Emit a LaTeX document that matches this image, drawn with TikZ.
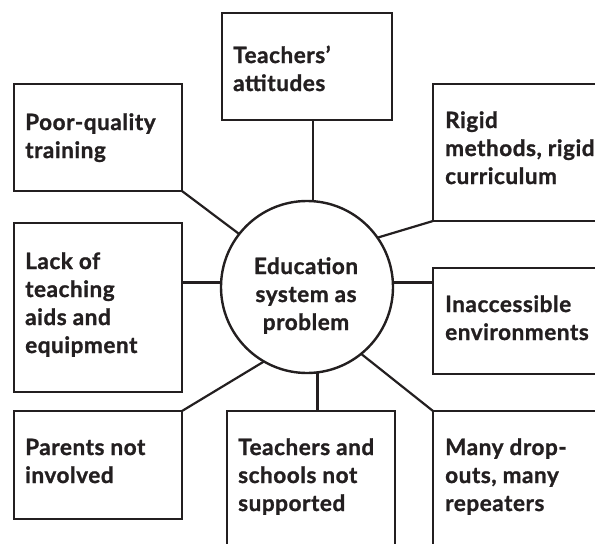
\documentclass[tikz,border=0pt]{standalone}
\usepackage{fontspec}
\setmainfont{Lato}[BoldFont={Lato Bold}, BoldFeatures={FakeBold=1.2, LetterSpace=2.5}]
\definecolor{ink}{HTML}{231F20}
\begin{document}
\begin{tikzpicture}[x=1pt,y=-1pt,
  line width=2.4pt, draw=ink,
  box/.style={draw=ink, rectangle, inner sep=0pt, outer sep=0pt, anchor=north west},
  lbl/.style={anchor=base west, inner sep=0pt, align=left, text=ink,
    font=\fontsize{22.5}{28}\selectfont\bfseries},
  link/.style={draw=ink, line width=2.2pt}]
\useasboundingbox (0,0) rectangle (595,544);
\clip (0,0) rectangle (595,544);
\node[box, minimum width=170pt, minimum height=107pt] (ta) at (222,13) {};
\node[box, minimum width=168pt, minimum height=107pt] (poor) at (14,84) {};
\node[box, minimum width=207pt, minimum height=137pt] (rigid) at (433,84) {};
\node[box, minimum width=168pt, minimum height=169pt] (lack) at (14,223) {};
\node[box, minimum width=207pt, minimum height=106pt] (inacc) at (433,268) {};
\node[box, minimum width=168pt, minimum height=108pt] (parents) at (14,411) {};
\node[box, minimum width=168pt, minimum height=190pt] (tsn) at (227,411) {};
\node[box, minimum width=207pt, minimum height=190pt] (many) at (433,411) {};
\node[draw=ink, circle, minimum size=172pt, inner sep=0pt, outer sep=0pt] (c) at (307,287) {};

% anchor "base" of a multi-line node is the baseline of its last line
\node[lbl] (tat) at (232,91) {Teachers’\\attitudes};
\node[lbl] (poort) at (24,158) {Poor-quality\\training};
\node[lbl] (rigidt) at (444,184) {Rigid\\methods, rigid\\curriculum};
\node[lbl] (lackt) at (24,353) {Lack of\\teaching\\aids and\\equipment};
\node[lbl] (inacct) at (444,340) {Inaccessible\\environments};
\node[lbl] (parentst) at (24,483) {Parents not\\involved};
\node[lbl] (tsnt) at (237,511) {Teachers and\\schools not\\supported};
\node[lbl] (manyt) at (444,511) {Many drop-\\outs, many\\repeaters};
\node[lbl, anchor=base, align=center] (ct) at (306,330) {Education\\system as\\problem};

\draw[link] (c.86) -- (c.86 |- ta.south);
\draw[link] (c.142) -- (poor.south east);
\draw[link] (c.35) -- (rigid.south west);
\draw[link] (c.177) -- (c.177 -| lack.east);
\draw[link] (c.3) -- (c.3 -| inacc.west);
\draw[link] (c.240) -- (parents.north east);
\draw[link] (c.-83) -- (c.-83 |- tsn.north);
\draw[link] (c.-51) -- (many.north west);
\end{tikzpicture}
\end{document}
